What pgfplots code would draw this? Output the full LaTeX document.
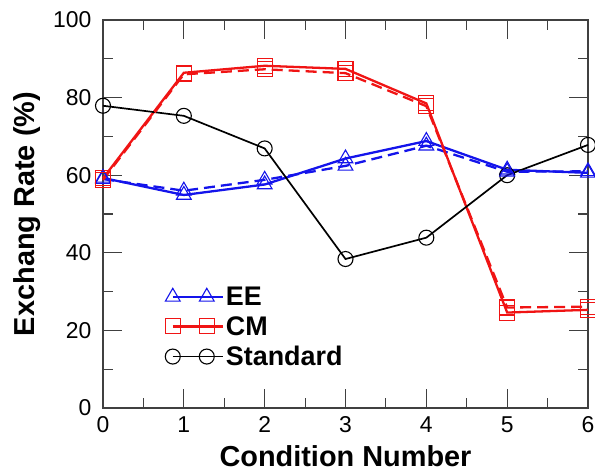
\documentclass[border=0pt]{standalone}
\usepackage{pgfplots}
\pgfplotsset{compat=1.18}
\usepackage{fontspec}
\setmainfont{Liberation Sans}

\definecolor{eeblue}{RGB}{20,20,235}
\definecolor{cmred}{RGB}{240,20,20}

% EE and CM: solid run and dashed run
\pgfplotstableread{
x  ees   eed   cms   cmd   std
0  59.3  59.0  59.2  58.8  77.9
1  54.9  56.0  86.4  86.0  75.3
2  57.6  58.8  88.2  87.3  66.9
3  64.3  62.4  87.4  86.3  38.4
4  68.8  67.6  78.5  77.8  43.9
5  61.4  60.9  24.6  25.9  60.0
6  60.6  61.0  25.3  26.1  67.8
}\rates

\begin{document}
\begin{tikzpicture}
\begin{axis}[
  scale only axis,
  width=485bp, height=388bp,
  xmin=0, xmax=6, ymin=0, ymax=100,
  xtick={0,1,...,6}, ytick={0,20,...,100},
  minor x tick num=1, minor y tick num=1,
  tick align=inside,
  major tick length=19bp, minor tick length=10bp,
  tick style={line width=1.1pt, black!75},
  axis line style={line width=1.1pt, black!75},
  every tick label/.append style={font=\fontsize{23}{27}\selectfont},
  /pgf/number format/assume math mode=true,
  xticklabel style={yshift=-5bp},
  yticklabel style={xshift=-8bp},
  xlabel={Condition Number},
  ylabel={Exchang Rate (\%)},
  label style={font=\fontsize{29}{33}\selectfont\bfseries},
  xlabel style={yshift=-6bp},
  ylabel style={yshift=6bp},
  clip=false,
  legend style={draw=none, fill=none, at={(0.128,0.318)}, anchor=north west,
    font=\fontsize{27}{30}\selectfont\bfseries, row sep=5.5bp,
    inner sep=0pt},
  legend cell align=left,
  legend image code/.code={
    \path (0bp,0bp) -- (50bp,0bp);
    \draw[#1] plot coordinates {(0bp,0bp) (34bp,0bp)};
  },
]
\coordinate (o) at (rel axis cs:0,0);
\addplot[eeblue, line width=2.3pt, mark=triangle, mark size=8.5bp,
  mark options={solid, line width=1.1pt}] table[x=x, y=ees] {\rates};
\addlegendentry{EE}
\addplot[cmred, line width=2.3pt, mark=square, mark size=7.5bp,
  mark options={solid, line width=1.1pt}] table[x=x, y=cms] {\rates};
\addlegendentry{CM}
\addplot[black, line width=1.7pt, mark=o, mark size=7.5bp,
  mark options={solid, line width=1.1pt}] table[x=x, y=std] {\rates};
\addlegendentry{Standard}
\addplot[eeblue, line width=2.3pt, dash pattern=on 11bp off 6bp,
  mark=triangle, mark size=8.5bp, mark options={solid, line width=1.1pt},
  forget plot] table[x=x, y=eed] {\rates};
\addplot[cmred, line width=2.3pt, dash pattern=on 11bp off 6bp,
  mark=square, mark size=7.5bp, mark options={solid, line width=1.1pt},
  forget plot] table[x=x, y=cmd] {\rates};
\end{axis}
\pgfresetboundingbox
\path ([shift={(-103bp,-67bp)}]o) rectangle ([shift={(492bp,408bp)}]o);
\end{tikzpicture}
\end{document}
